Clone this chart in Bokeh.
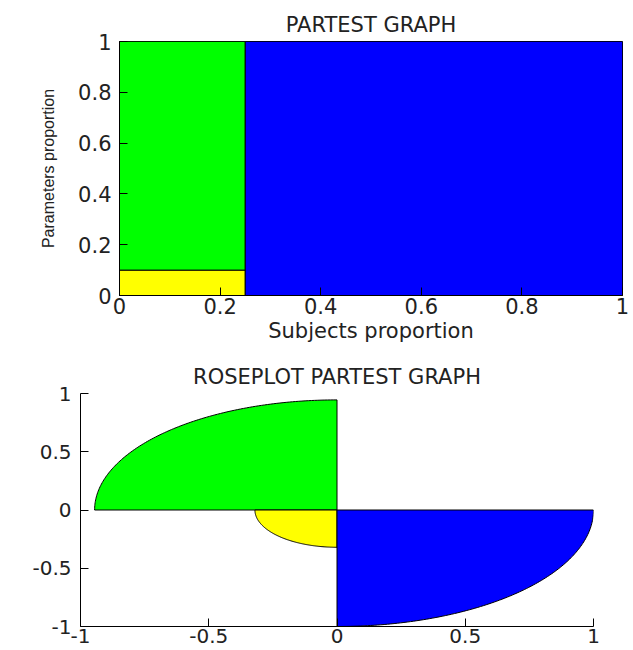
import numpy as np
from bokeh.plotting import figure
from bokeh.layouts import column, row
from bokeh.models import Range1d, ColumnDataSource, FixedTicker
from bokeh.embed import file_html
from bokeh.resources import INLINE

# ---- data: PARTEST cells ----
cell_x0 = [0.0, 0.0, 0.25]
cell_x1 = [0.25, 0.25, 1.0]
cell_y0 = [0.0, 0.1, 0.0]
cell_y1 = [0.1, 1.0, 1.0]
cell_colors = ["#FFFF00", "#00FF00", "#0000FF"]

# ---- data: rose sectors ----
sector_start_deg = [90, 180, 270]
sector_end_deg = [180, 270, 360]
sector_radius = [0.945, 0.32, 1.0]
sector_colors = ["#00FF00", "#FFFF00", "#0000FF"]

top_ticks = [0, 0.2, 0.4, 0.6, 0.8, 1]
rose_ticks = [-1, -0.5, 0, 0.5, 1]

FONT = "DejaVu Sans"
TITLE_SIZE = "21px"


def style(p, ticks_x, ticks_y, tick_size):
    p.title.text_font = FONT
    p.title.text_font_size = TITLE_SIZE
    p.title.text_font_style = "normal"
    p.title.align = "center"
    p.title.text_color = "#222222"
    p.xgrid.visible = False
    p.ygrid.visible = False
    p.xaxis.ticker = FixedTicker(ticks=ticks_x)
    p.yaxis.ticker = FixedTicker(ticks=ticks_y)
    for ax in (p.xaxis[0], p.yaxis[0]):
        ax.major_label_text_font = FONT
        ax.major_label_text_font_size = tick_size
        ax.major_label_text_color = "#222222"
        ax.axis_line_color = "black"
        ax.major_tick_line_color = "black"
        ax.major_tick_in = 8
        ax.major_tick_out = 0
        ax.minor_tick_line_color = None
    p.background_fill_color = "white"
    p.border_fill_color = "white"


# ---- top figure ----
p1 = figure(width=630, height=345, output_backend="svg", toolbar_location=None,
            x_range=Range1d(0, 1), y_range=Range1d(0, 1),
            title="PARTEST GRAPH",
            min_border_left=119, min_border_right=8, min_border_top=41,
            min_border_bottom=45)
src = ColumnDataSource(dict(x0=cell_x0, x1=cell_x1, y0=cell_y0, y1=cell_y1, c=cell_colors))
p1.quad(left="x0", right="x1", bottom="y0", top="y1", fill_color="c",
        line_color="black", line_width=1, source=src)
style(p1, top_ticks, top_ticks, "21px")
p1.xaxis.axis_label = "Subjects proportion"
p1.yaxis.axis_label = "Parameters proportion"
p1.xaxis.axis_label_text_font = FONT
p1.xaxis.axis_label_text_font_size = "21px"
p1.xaxis.axis_label_text_font_style = "normal"
p1.xaxis.axis_label_text_color = "#222222"
p1.xaxis.axis_label_standoff = 2
p1.xaxis.major_label_standoff = 2
p1.yaxis.major_label_standoff = 8
p1.yaxis.axis_label_text_font = "Liberation Sans"
p1.yaxis.axis_label_text_font_size = "16px"
p1.yaxis.axis_label_text_font_style = "normal"
p1.yaxis.axis_label_text_color = "#222222"
p1.yaxis.axis_label_standoff = 18
p1.xaxis.major_label_overrides = {0: "0", 1: "1"}
p1.yaxis.major_label_overrides = {0: "0", 1: "1"}
p1.outline_line_color = "black"
p1.outline_line_alpha = 1

# ---- bottom figure ----
p2 = figure(width=630, height=305, output_backend="svg", toolbar_location=None,
            x_range=Range1d(-1, 1), y_range=Range1d(-1, 1),
            title="ROSEPLOT PARTEST GRAPH",
            min_border_left=80, min_border_right=37, min_border_top=48,
            min_border_bottom=24)
xs, ys = [], []
for a0, a1, r in zip(sector_start_deg, sector_end_deg, sector_radius):
    th = np.deg2rad(np.linspace(a0, a1, 120))
    xs.append([0.0] + list(r * np.cos(th)) + [0.0])
    ys.append([0.0] + list(r * np.sin(th)) + [0.0])
p2.patches(xs, ys, fill_color=sector_colors, line_color="black", line_width=1)
style(p2, rose_ticks, rose_ticks, "20px")
p2.xaxis.major_label_standoff = 2
p2.yaxis.major_label_standoff = 9
p2.xaxis.major_label_overrides = {-1: "-1", 0: "0", 1: "1", -0.5: "-0.5", 0.5: "0.5"}
p2.yaxis.major_label_overrides = {-1: "-1", 0: "0", 1: "1", -0.5: "-0.5", 0.5: "0.5"}
p2.outline_line_color = None

layout = column(row(p1), row(p2), spacing=0)
open("out.html", "w").write(file_html(layout, INLINE))
